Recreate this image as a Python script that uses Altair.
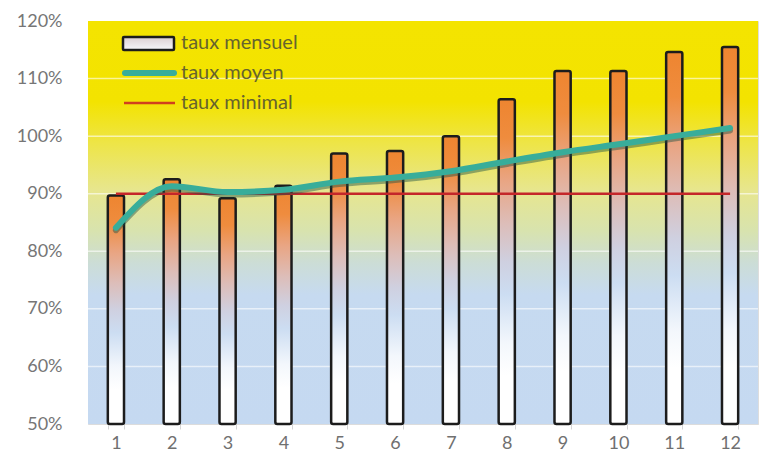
import altair as alt
import pandas as pd

# Monthly rate, running average rate and minimum target, per month
mois = list(range(1, 13))
taux_mensuel = [0.897, 0.925, 0.892, 0.914, 0.970, 0.974, 1.000, 1.064, 1.113, 1.113, 1.146, 1.155]
taux_moyen = [0.841, 0.913, 0.903, 0.907, 0.921, 0.928, 0.939, 0.956, 0.972, 0.986, 1.000, 1.014]
taux_minimal = [0.90] * 12
y_ticks = [0.5, 0.6, 0.7, 0.8, 0.9, 1.0, 1.1, 1.2]
legende = ["taux mensuel", "taux moyen", "taux minimal"]

df = pd.DataFrame({
    "mois": mois,
    "mensuel": taux_mensuel,
    "moyen": taux_moyen,
    "minimal": taux_minimal,
})
grid_df = pd.DataFrame({"v": y_ticks[1:-1]})

W, H = 670, 403
FONT = "Lato"

x_enc = alt.X(
    "mois:O",
    scale=alt.Scale(paddingInner=0.71, paddingOuter=0.355),
    axis=alt.Axis(
        title=None, labelAngle=0, labelFontSize=18, labelColor="#707070",
        labelPadding=5, tickBand="extent", tickSize=5, tickColor="#d6d6d6",
        domainColor="#dcdcdc", grid=False,
    ),
)
y_scale = alt.Scale(domain=[0.5, 1.2], nice=False, zero=False)
y_axis = alt.Axis(
    title=None, format=".0%", values=y_ticks, labelFontSize=18,
    labelColor="#767676", labelPadding=26, ticks=False, domain=False, grid=False,
)


def vgrad(stops):
    return alt.Gradient(
        gradient="linear", x1=0, y1=0, x2=0, y2=1,
        stops=[alt.GradientStop(offset=o, color=c) for o, c in stops],
    )


bg_fill = vgrad([
    (0.0, "#F4E400"), (0.2, "#F3E300"), (0.3, "#EEE545"), (0.42, "#E7E68E"),
    (0.52, "#D8E3AE"), (0.6, "#CCDDD6"), (0.68, "#C6DAF0"), (1.0, "#C5D9F1"),
])
bar_fill = vgrad([
    (0.0, "#EE8530"), (0.12, "#EF8C3E"), (0.25, "#E9A583"), (0.38, "#DDBDB8"),
    (0.5, "#CFD0E0"), (0.6, "#CCDDF2"), (0.75, "#F3F7FC"), (0.85, "#FFFFFF"),
    (1.0, "#FFFFFF"),
])

one = pd.DataFrame({"k": [0]})

# Plot-area background
background = alt.Chart(one).mark_rect(fill=bg_fill).encode(
    x=alt.value(0), x2=alt.value(W), y=alt.value(0), y2=alt.value(H)
)

# Light horizontal gridlines, carrying the percentage axis
grid = alt.Chart(grid_df).mark_rule(color="#ffffff", opacity=0.6, strokeWidth=1.5).encode(
    y=alt.Y("v:Q", scale=y_scale, axis=y_axis)
)

bars = alt.Chart(df).mark_bar(
    fill=bar_fill, stroke="#1c1c1c", strokeWidth=2.5, cornerRadius=2
).encode(
    x=x_enc,
    y=alt.Y("mensuel:Q", scale=y_scale),
    y2=alt.datum(0.5),
)

minimal = alt.Chart(df).mark_line(color="#C4262A", strokeWidth=2.5).encode(
    x=alt.X("mois:O"), y=alt.Y("minimal:Q", scale=y_scale)
)

moyen_shadow = alt.Chart(df).mark_line(
    color="#1d4f47", strokeWidth=6, opacity=0.45, interpolate="monotone",
    yOffset=2.5, strokeCap="round",
).encode(x=alt.X("mois:O"), y=alt.Y("moyen:Q", scale=y_scale))

moyen = alt.Chart(df).mark_line(
    color="#38AD9A", strokeWidth=6, interpolate="monotone", strokeCap="round"
).encode(x=alt.X("mois:O"), y=alt.Y("moyen:Q", scale=y_scale))

# Legend drawn inside the plot, top left
leg_rect = alt.Chart(one).mark_rect(
    fill=vgrad([(0, "#DCCFD2"), (1, "#F6F6FA")]),
    stroke="#1c1c1c", strokeWidth=2.5, cornerRadius=1,
).encode(x=alt.value(35), x2=alt.value(86), y=alt.value(16), y2=alt.value(29))
leg_teal = alt.Chart(one).mark_rule(
    color="#38AD9A", strokeWidth=6, strokeCap="round"
).encode(x=alt.value(37), x2=alt.value(86), y=alt.value(52))
leg_red = alt.Chart(one).mark_rule(color="#D0401E", strokeWidth=2.5).encode(
    x=alt.value(36), x2=alt.value(87), y=alt.value(82)
)
leg_texts = [
    alt.Chart(one).mark_text(
        align="left", baseline="middle", fontSize=20, color="#66632e",
        font=FONT, text=label,
    ).encode(x=alt.value(93), y=alt.value(ypos))
    for label, ypos in zip(legende, [22, 52, 82])
]

chart = alt.layer(
    background, grid, bars, minimal, moyen_shadow, moyen,
    leg_rect, leg_teal, leg_red, *leg_texts
).properties(
    width=W, height=H,
    autosize=alt.AutoSizeParams(type="none"),
    padding={"left": 88, "top": 21, "right": 2, "bottom": 40},
    background="#ffffff",
).configure_view(stroke=None).configure(font=FONT)

chart.save("out.html", embed_options={"renderer": "svg", "actions": False})
